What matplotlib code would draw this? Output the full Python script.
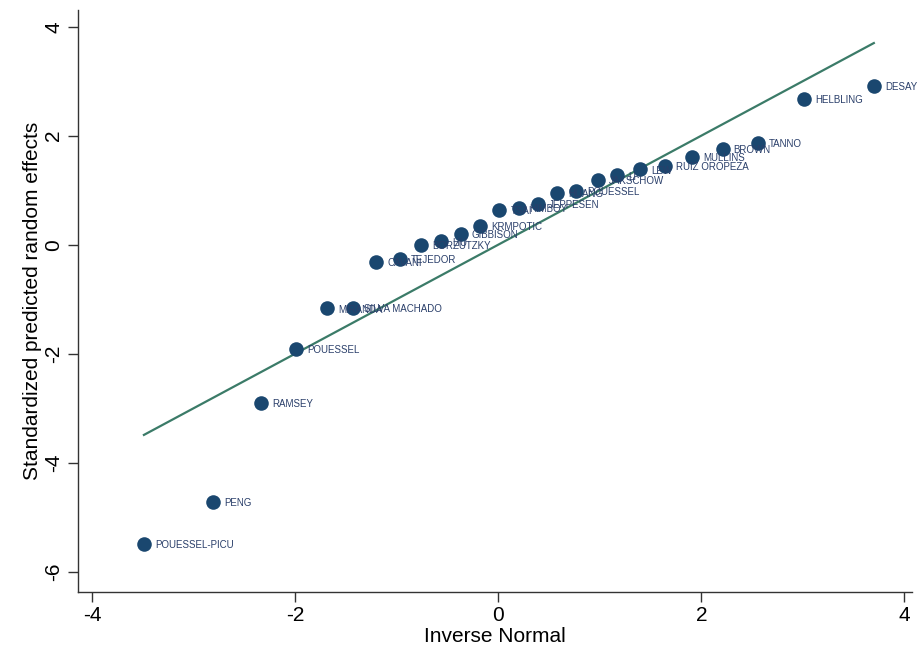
import matplotlib
matplotlib.use("Agg")
import matplotlib.pyplot as plt

# Data
names = ["POUESSEL-PICU", "PENG", "RAMSEY", "POUESSEL", "MIRANDA", "SILVA MACHADO",
         "CAVANI", "TEJEDOR", "BORZUTZKY", "LIU", "GIBBISON", "KRMPOTIC",
         "TSAI", "HIMBOY", "JEPPESEN", "HUANG", "POUESSEL", "JAKSCHOW", "LI",
         "LEW", "RUIZ OROPEZA", "MULLINS", "BROWN", "TANNO", "HELBLING", "DESAY"]
inv_normal = [-3.49, -2.81, -2.34, -1.99, -1.69, -1.43,
              -1.20, -0.97, -0.76, -0.56, -0.37, -0.18,
              0.01, 0.20, 0.39, 0.58, 0.77, 0.98, 1.17,
              1.40, 1.64, 1.91, 2.21, 2.56, 3.01, 3.70]
std_re = [-5.49, -4.72, -2.90, -1.91, -1.17, -1.16,
          -0.31, -0.26, 0.00, 0.06, 0.20, 0.35,
          0.64, 0.68, 0.75, 0.95, 0.99, 1.19, 1.27,
          1.38, 1.45, 1.61, 1.76, 1.87, 2.68, 2.92]
xticks = [-4, -2, 0, 2, 4]
yticks = [-6, -4, -2, 0, 2, 4]

plt.rcParams['font.family'] = ['Liberation Sans', 'DejaVu Sans']

fig = plt.figure(figsize=(9.17, 6.54), dpi=100)
ax = fig.add_axes([0.085, 0.095, 0.91, 0.89])

navy = "#1a476f"
green = "#3b7b68"

lo, hi = min(inv_normal), max(inv_normal)
ax.plot([lo, hi], [lo, hi], color=green, lw=1.6, zorder=2)
ax.scatter(inv_normal, std_re, s=110, color=navy, zorder=3, linewidths=0)
for x, y, n in zip(inv_normal, std_re, names):
    ax.annotate(n, (x, y), xytext=(8, -1), textcoords="offset points",
                fontsize=7, color="#2a3f6a", va="center", ha="left", zorder=4)

ax.set_xlim(-4.14, 4.08)
ax.set_ylim(-6.37, 4.31)
ax.set_xticks(xticks)
ax.set_yticks(yticks)
ax.set_xticklabels([str(t) for t in xticks], fontsize=15)
ax.set_yticklabels([str(t) for t in yticks], fontsize=15, rotation=90, va="center")
ax.tick_params(direction="out", length=7, width=1, color="#333333")
ax.spines['top'].set_visible(False)
ax.spines['right'].set_visible(False)
for s in ['left', 'bottom']:
    ax.spines[s].set_color("#333333")
    ax.spines[s].set_linewidth(1.0)
ax.set_xlabel("Inverse Normal", fontsize=15, labelpad=1)
ax.set_ylabel("Standardized predicted random effects", fontsize=15, labelpad=2)

fig.savefig("out.png", dpi=100)
